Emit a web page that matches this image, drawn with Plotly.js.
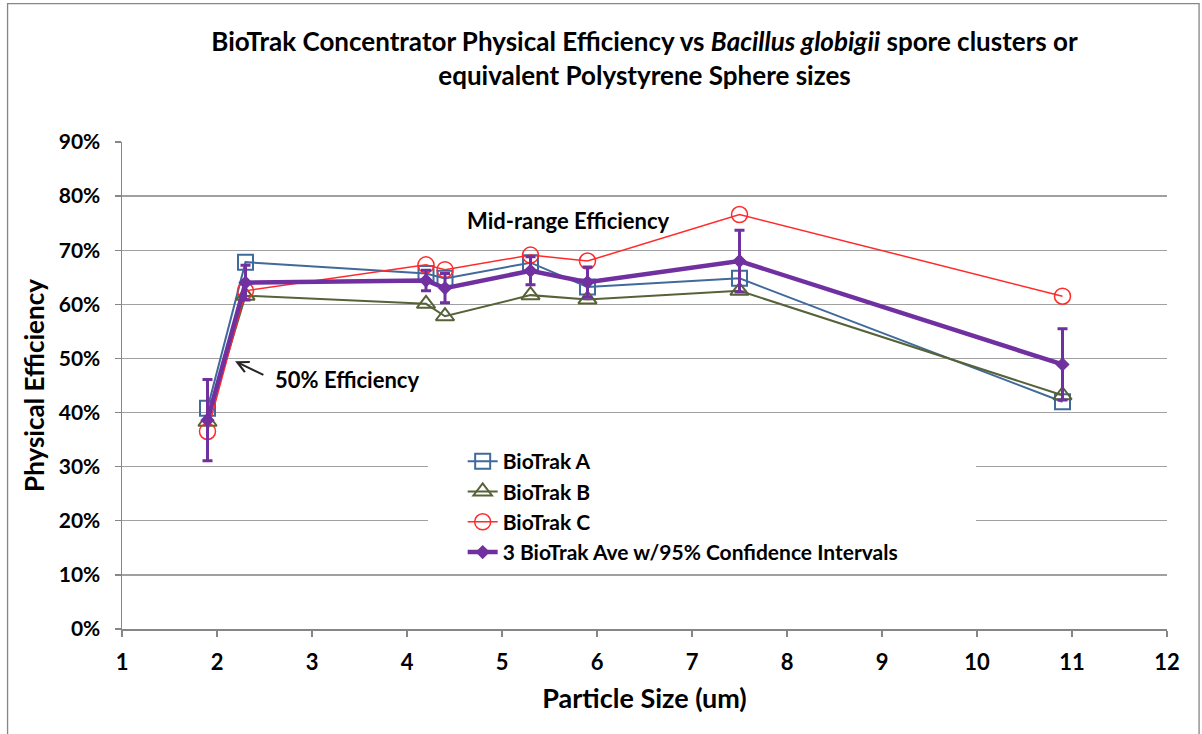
<!DOCTYPE html>
<html>
<head>
<meta charset="utf-8">
<script src="https://cdn.plot.ly/plotly-3.0.1.min.js"></script>
<style>html,body{margin:0;padding:0;background:#fff;}#chart{width:1202px;height:734px;}</style>
</head>
<body>
<div id="chart"></div>
<script>
// Particle sizes (um)
var particleSize = [1.9, 2.3, 4.2, 4.4, 5.3, 5.9, 7.5, 10.9];
// Physical efficiency (%)
var bioTrakA = [40.8, 67.8, 65.7, 64.8, 67.7, 63.2, 64.8, 42.0];
var bioTrakB = [38.3, 61.6, 60.1, 57.8, 61.7, 60.9, 62.5, 43.2];
var bioTrakC = [36.5, 62.5, 67.3, 66.4, 69.1, 68.0, 76.6, 61.5];
var bioTrakAve = [38.6, 64.0, 64.4, 63.0, 66.2, 64.1, 68.0, 48.9];
var ci95 = [7.5, 3.2, 1.9, 2.7, 2.6, 2.8, 5.7, 6.6];
var seriesNames = ['BioTrak A', 'BioTrak B', 'BioTrak C', '3 BioTrak Ave w/95% Confidence Intervals'];
var yTickVals = [0, 10, 20, 30, 40, 50, 60, 70, 80, 90];
var xTickVals = [1, 2, 3, 4, 5, 6, 7, 8, 9, 10, 11, 12];

var FONT = 'Lato, "Open Sans", sans-serif';

var traces = [
  {x: particleSize, y: bioTrakA, name: seriesNames[0], type: 'scatter', mode: 'lines+markers', legendgroup: 'a',
   line: {color: '#40699C', width: 2}, marker: {symbol: 'square-open', size: 15, color: '#40699C', line: {width: 2}}},
  {x: particleSize, y: bioTrakB, name: seriesNames[1], type: 'scatter', mode: 'lines+markers', legendgroup: 'b',
   line: {color: '#566237', width: 2}, marker: {symbol: 'triangle-up-open', size: 16, color: '#566237', line: {width: 2}}},
  {x: particleSize, y: bioTrakC, name: seriesNames[2], type: 'scatter', mode: 'lines+markers', legendgroup: 'c',
   line: {color: '#FF2A2A', width: 1.5}, marker: {symbol: 'circle-open', size: 16, color: '#FF2A2A', line: {width: 1.5}}},
  {x: particleSize, y: bioTrakAve, name: seriesNames[3], type: 'scatter', mode: 'lines+markers', legendgroup: 'd',
   line: {color: '#7030A0', width: 4.5}, marker: {symbol: 'diamond', size: 11, color: '#7030A0'},
   error_y: {type: 'data', array: ci95, visible: true, color: '#7030A0', thickness: 3, width: 5}}
];

var layout = {
  width: 1202, height: 734,
  margin: {l: 122, r: 35, t: 142, b: 105},
  paper_bgcolor: '#ffffff', plot_bgcolor: '#ffffff',
  font: {family: FONT, color: '#000000'},
  title: {
    text: 'BioTrak Concentrator Physical Efficiency vs <i>Bacillus globigii</i> spore clusters or<br>equivalent Polystyrene Sphere sizes',
    font: {family: FONT, size: 26, weight: 700, color: '#000'},
    x: 0.5, xref: 'paper', xanchor: 'center',
    y: 0.930, yref: 'container', yanchor: 'middle'
  },
  xaxis: {
    range: [1, 12], tickvals: xTickVals, ticktext: xTickVals.map(String),
    showgrid: false, zeroline: false,
    showline: true, linecolor: '#868686', linewidth: 1.5,
    ticks: 'outside', ticklen: 6, tickcolor: '#868686', tickwidth: 1.3,
    tickfont: {family: FONT, size: 22, weight: 700, color: '#000'},
    ticklabelstandoff: 7,
    title: {text: 'Particle Size (um)', font: {family: FONT, size: 27, weight: 700, color: '#000'}, standoff: 15}
  },
  yaxis: {
    range: [0, 90], tickvals: yTickVals, ticktext: yTickVals.map(function(v){return v + '%';}),
    showgrid: true, gridcolor: '#A0A0A0', gridwidth: 1.4, zeroline: false,
    showline: true, linecolor: '#868686', linewidth: 1.5,
    ticks: 'outside', ticklen: 6, tickcolor: '#868686', tickwidth: 1.3,
    tickfont: {family: FONT, size: 21, weight: 700, color: '#000'},
    ticklabelstandoff: 10,
    title: {text: 'Physical Efficiency', font: {family: FONT, size: 26, weight: 700, color: '#000'}, standoff: 6}
  },
  showlegend: true,
  legend: {
    x: 0.326, y: 0.386, xanchor: 'left', yanchor: 'top',
    bgcolor: 'rgba(255,255,255,0)', borderwidth: 0,
    tracegroupgap: 0,
    font: {family: FONT, size: 21, weight: 700, color: '#000'}
  },
  shapes: [
    {type: 'rect', xref: 'paper', yref: 'paper', x0: 0.2928, x1: 0.8172, y0: 0.13, y1: 0.41,
     fillcolor: '#ffffff', line: {width: 0}, layer: 'above'},
    {type: 'rect', xref: 'paper', yref: 'paper', x0: -0.1095, x1: 1.0307, y0: -0.4, y1: 1.284,
     fillcolor: 'rgba(0,0,0,0)', line: {color: '#868686', width: 1.3}, layer: 'below'}
  ],
  annotations: [
    {text: 'Mid-range Efficiency', x: 5.695, y: 75.5, xref: 'x', yref: 'y', showarrow: false,
     font: {family: FONT, size: 22, weight: 700, color: '#000'}},
    {text: '50% Efficiency', x: 3.37, y: 46.2, xref: 'x', yref: 'y', showarrow: false,
     font: {family: FONT, size: 22, weight: 700, color: '#000'}},
    {text: ' ', x: 2.19, y: 49.5, xref: 'x', yref: 'y', axref: 'x', ayref: 'y', ax: 2.52, ay: 46.7,
     showarrow: true, arrowhead: 5, arrowsize: 1.1, arrowwidth: 2, arrowcolor: '#262626', standoff: 0, startstandoff: 0}
  ]
};

Plotly.newPlot('chart', traces, layout, {displayModeBar: false, staticPlot: true});
</script>
</body>
</html>
